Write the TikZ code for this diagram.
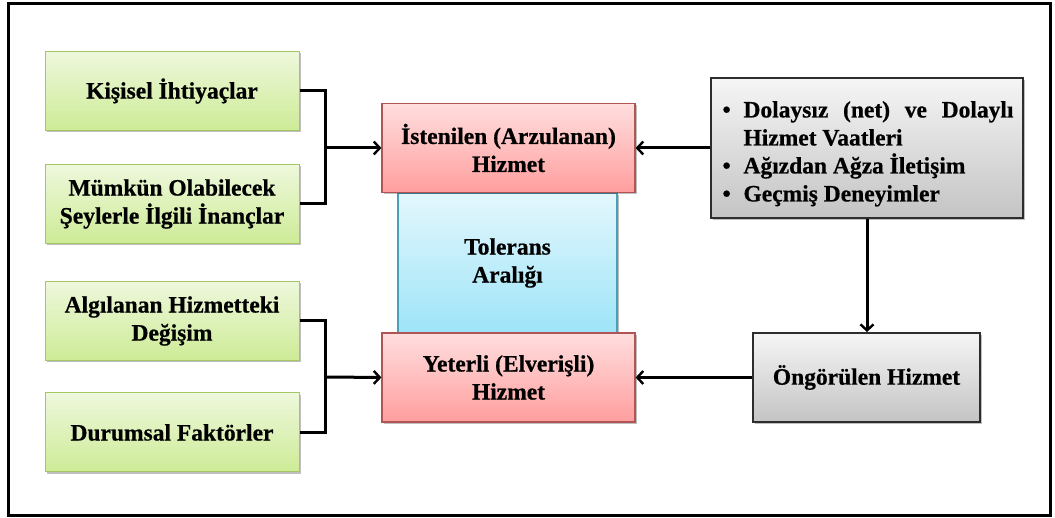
\documentclass[tikz,border=0pt]{standalone}
\usepackage{fontspec}
\setmainfont{Liberation Serif}[BoldFeatures={FakeBold=0.6}]
\usetikzlibrary{arrows.meta,shadows}

\definecolor{grnT}{RGB}{238,248,220}
\definecolor{grnB}{RGB}{205,235,150}
\definecolor{grnD}{RGB}{165,198,100}
\definecolor{pnkT}{RGB}{255,222,222}
\definecolor{pnkB}{RGB}{255,158,158}
\definecolor{pnkD}{RGB}{175,85,85}
\definecolor{bluT}{RGB}{228,247,253}
\definecolor{bluB}{RGB}{158,228,248}
\definecolor{bluD}{RGB}{75,160,185}
\definecolor{gryT}{RGB}{245,245,245}
\definecolor{gryB}{RGB}{196,196,196}
\definecolor{gryD}{RGB}{45,45,45}

% bullet item with hanging indent
\newcommand\itembul[1]{\par\noindent\hangindent=23pt\hangafter=1%
  \makebox[23pt][l]{\hspace{2pt}\textbullet}#1\par}

\tikzset{
  box/.style={draw, align=center, inner sep=0pt,
    font=\bfseries\fontsize{23.5}{28}\selectfont,
    drop shadow={shadow xshift=2pt, shadow yshift=-2pt, opacity=0.25, fill=black}},
  greenbox/.style={box, draw=grnD, line width=1pt, top color=grnT, bottom color=grnB,
    minimum width=254pt, minimum height=79pt},
  pinkbox/.style={box, draw=pnkD, line width=1.2pt, top color=pnkT, bottom color=pnkB,
    minimum width=253pt, minimum height=89pt},
  bluebox/.style={box, draw=bluD, line width=1.2pt, top color=bluT, bottom color=bluB,
    minimum width=219pt, minimum height=140pt},
  greybox/.style={box, draw=gryD, line width=2pt, top color=gryT, bottom color=gryB},
  conn/.style={line width=3pt, line join=miter},
  arrow/.style={conn, -{Straight Barb[length=6pt,width=13pt,line width=2.4pt]}}
}

\begin{document}
\begin{tikzpicture}[x=1pt,y=1pt]
\useasboundingbox (0,0) rectangle (1055,518);
\fill[white] (0,0) rectangle (1055,518);
\draw[line width=3pt] (8,2) rectangle (1050,514);

% left column: influencing factors
\node[greenbox] (g1) at (172,427)   {Kişisel İhtiyaçlar};
\node[greenbox] (g2) at (172,314)   {Mümkün Olabilecek\\Şeylerle İlgili İnançlar};
\node[greenbox] (g3) at (172,197)   {Algılanan Hizmetteki\\Değişim};
\node[greenbox] (g4) at (172,85.5)  {Durumsal Faktörler};

% centre: expected service levels and tolerance zone
\node[bluebox] (tol) at (507.5,255) {Tolerans\\Aralığı};
\node[pinkbox] (p1) at (508.5,370)  {İstenilen (Arzulanan)\\Hizmet};
\node[pinkbox] (p2) at (508.5,140.5) {Yeterli (Elverişli)\\Hizmet};

% right column
\node[greybox, text width=293pt, inner xsep=9.5pt, minimum height=140pt, align=justify]
  (r1) at (867,370) {%
  \itembul{Dolaysız (net) ve Dolaylı\linebreak Hizmet Vaatleri}%
  \itembul{Ağızdan Ağza İletişim}%
  \itembul{Geçmiş Deneyimler}};
\node[greybox, minimum width=227pt, minimum height=89pt] (r2) at (866.5,140.5) {Öngörülen Hizmet};

% connectors
\coordinate (jt) at (325,370);
\coordinate (jb) at (325,141);
\draw[conn] (g1.east) -| (jt) |- (g2.east);
\draw[arrow] (jt) -- (p1.west);
\draw[conn] (g3.east) -| (jb) |- (g4.east);
\draw[arrow] (jb) -- (p2.west);
\draw[arrow] (r1.west) -- (p1.east);
\draw[arrow] (r1.south) -- (r1.south |- r2.north);
\draw[arrow] (r2.west) -- (p2.east);
\end{tikzpicture}
\end{document}
